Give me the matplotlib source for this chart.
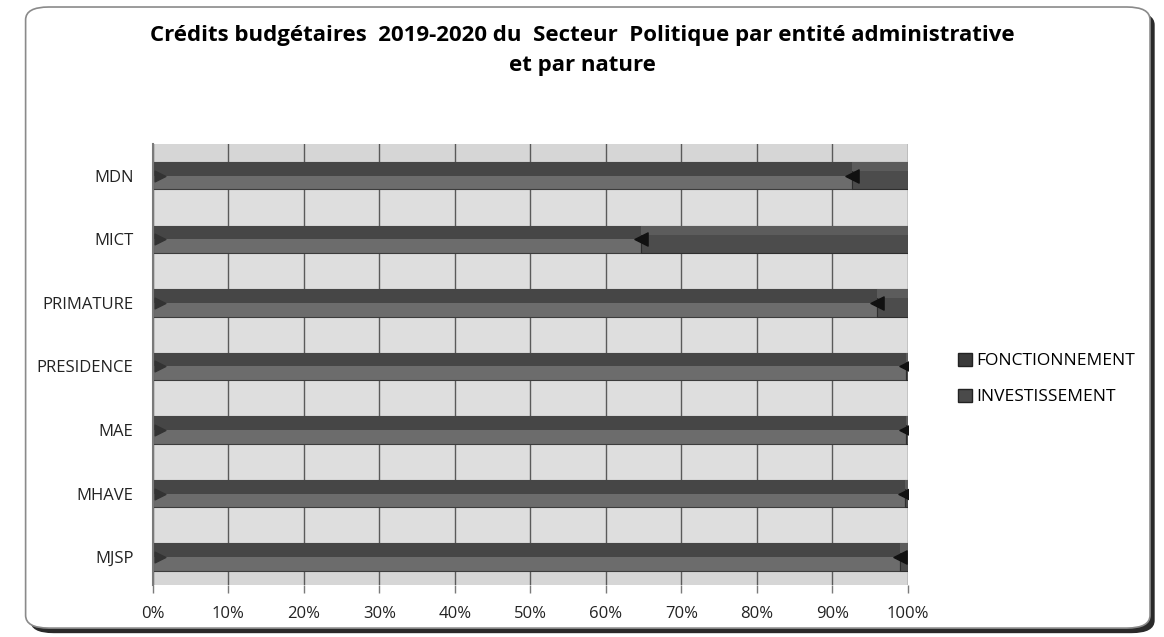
import matplotlib.pyplot as plt
import numpy as np
from matplotlib.patches import FancyBboxPatch, Patch
from matplotlib.ticker import PercentFormatter

plt.rcParams['font.family'] = ['Open Sans', 'DejaVu Sans']

entites = ["MDN", "MICT", "PRIMATURE", "PRESIDENCE", "MAE", "MHAVE", "MJSP"]
fonctionnement = [92.6, 64.7, 95.9, 99.7, 99.7, 99.6, 98.9]
investissement = [100 - v for v in fonctionnement]

fig = plt.figure(figsize=(11.64, 6.37), dpi=100)

# rounded frame with shadow
shadow = FancyBboxPatch((0.026, 0.006), 0.966, 0.975, boxstyle="round,pad=0,rounding_size=0.02",
                        transform=fig.transFigure, facecolor='#2a2a2a', edgecolor='none', zorder=-2)
frame = FancyBboxPatch((0.022, 0.014), 0.966, 0.975, boxstyle="round,pad=0,rounding_size=0.02",
                       transform=fig.transFigure, facecolor='white', edgecolor='#8a8a8a', lw=1.2, zorder=-1)
fig.patches.extend([shadow, frame])

ax = fig.add_axes([0.1314, 0.0816, 0.6486, 0.6923])
ax.set_facecolor('#d6d6d6')

y = np.arange(len(entites))
h = 0.43

# light bands between bars
for yi in y[:-1]:
    ax.axhspan(yi + h / 2, yi + 1 - h / 2, color='#dedede', zorder=0.5)

ax.barh(y, fonctionnement, height=h, color='#6c6c6c', edgecolor='#3c3c3c', lw=0.8, zorder=2)
ax.barh(y - h / 4, fonctionnement, height=h / 2, color='#464646', zorder=2.1)
ax.barh(y, investissement, left=fonctionnement, height=h, color='#4c4c4c', edgecolor='#2e2e2e', lw=0.8, zorder=2)
ax.barh(y - h / 3, investissement, left=fonctionnement, height=h / 3, color='#5c5c5c', zorder=2.1)

# small dark arrow tips at bar ends
ax.scatter(fonctionnement, y, marker='<', s=90, color='#111111', zorder=3)
ax.scatter([1] * len(y), y, marker='>', s=60, color='#333333', zorder=3)

ax.set_xlim(0, 100)
ax.set_ylim(len(entites) - 0.56, -0.5)
ax.set_xticks(np.arange(0, 101, 10))
ax.xaxis.set_major_formatter(PercentFormatter(decimals=0))
ax.set_yticks(y)
ax.set_yticklabels(entites)
ax.tick_params(axis='both', labelsize=12, colors='#222222')
ax.tick_params(axis='y', length=0, pad=14)
ax.tick_params(axis='x', length=6, width=1, color='#7a7a7a', pad=9)
ax.grid(axis='x', color='#5a5a5a', lw=1.0, zorder=1)
ax.set_axisbelow(True)
for s in ['top', 'right', 'bottom']:
    ax.spines[s].set_visible(False)
ax.spines['left'].set_color('#7a7a7a')
ax.spines['left'].set_linewidth(1.5)

fig.text(0.5, 0.96, "Crédits budgétaires  2019-2020 du  Secteur  Politique par entité administrative\net par nature",
         ha='center', va='top', fontsize=16, fontweight='bold', linespacing=1.55)

handles = [Patch(facecolor='#3a3a3a', edgecolor='#222222', label='FONCTIONNEMENT'),
           Patch(facecolor='#4a4a4a', edgecolor='#222222', label='INVESTISSEMENT')]
fig.legend(handles=handles, loc='center left', bbox_to_anchor=(0.81, 0.405), frameon=False,
           fontsize=12.5, handlelength=0.8, handleheight=0.8, handletextpad=0.2, labelspacing=1.1)

plt.savefig('out.png', dpi=100)
